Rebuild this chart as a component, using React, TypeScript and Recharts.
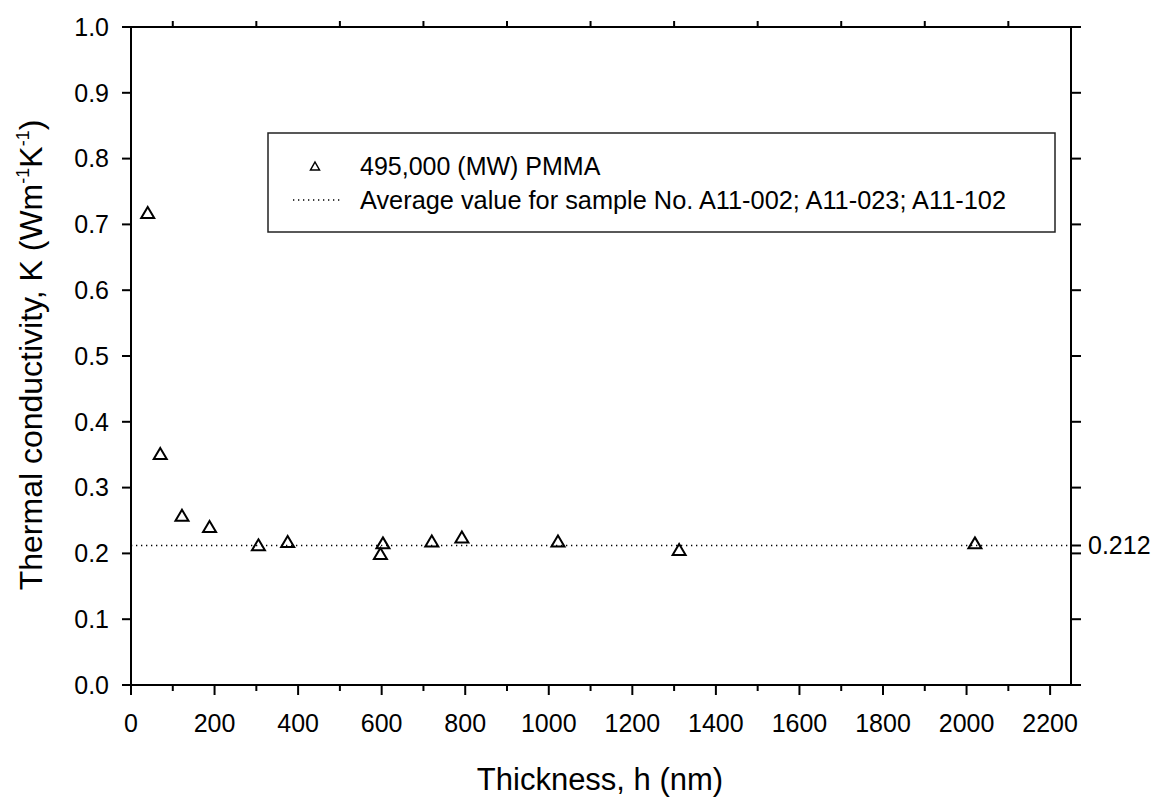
import React from "react";
import { ComposedChart, Scatter, XAxis, YAxis, ReferenceLine, Customized, Label } from "recharts";

const thickness = [40, 70, 122, 188, 305, 375, 597, 603, 720, 792, 1022, 1312, 2020];
const kValues = [0.718, 0.352, 0.258, 0.241, 0.213, 0.218, 0.2, 0.216, 0.219, 0.225, 0.219, 0.206, 0.216];
const averageK = 0.212;

const xTicks = [0, 100, 200, 300, 400, 500, 600, 700, 800, 900, 1000, 1100, 1200, 1300, 1400, 1500, 1600, 1700, 1800, 1900, 2000, 2100, 2200];
const topTicks = [100, 300, 500, 700, 900, 1100, 1300, 1500, 1700, 1900, 2100];
const yTicks = [0, 0.1, 0.2, 0.3, 0.4, 0.5, 0.6, 0.7, 0.8, 0.9, 1.0];
const rightTicks = [0, 0.1, 0.2, averageK, 0.3, 0.4, 0.5, 0.6, 0.7, 0.8, 0.9, 1.0];

const points = thickness.map((h, i) => ({ h, k: kValues[i] }));

const FONT = "'Liberation Sans', Arial, sans-serif";

function Triangle(props: any) {
  const { cx, cy } = props;
  if (cx == null || cy == null) return null;
  return (
    <polygon
      points={`${cx},${cy - 5.5} ${cx + 6.5},${cy + 5.5} ${cx - 6.5},${cy + 5.5}`}
      fill="none"
      stroke="#000"
      strokeWidth={2}
    />
  );
}

function NoShape() {
  return <g />;
}

function BottomTick(props: any) {
  const { x, y, payload } = props;
  const major = payload.value % 200 === 0;
  return (
    <g>
      <line x1={x} y1={y} x2={x} y2={y + (major ? 10 : 6)} stroke="#000" strokeWidth={2} />
      {major && (
        <text x={x} y={y + 47} textAnchor="middle" fontSize={25} fontFamily={FONT} fill="#000">
          {payload.value}
        </text>
      )}
    </g>
  );
}

function EmptyTick() {
  return <g />;
}

function Titles() {
  return (
    <g fontFamily={FONT} fill="#000">
      <text x={600} y={790} textAnchor="middle" fontSize={31}>
        Thickness, h (nm)
      </text>
      <text x={42} y={355} textAnchor="middle" fontSize={32} transform="rotate(-90 42 355)">
        Thermal conductivity, K (Wm
        <tspan fontSize={18} dy={-13}>-1</tspan>
        <tspan dy={13}>K</tspan>
        <tspan fontSize={18} dy={-13}>-1</tspan>
        <tspan dy={13}>)</tspan>
      </text>
      <rect x={268} y={133} width={787} height={99} fill="#fff" stroke="#222" strokeWidth={1.5} />
      <polygon points="315,162 319.5,170 310.5,170" fill="none" stroke="#000" strokeWidth={1.5} />
      <text x={360} y={175} fontSize={25}>495,000 (MW) PMMA</text>
      <line x1={293} y1={200} x2={342} y2={200} stroke="#000" strokeWidth={1.3} strokeDasharray="1.3 3.7" />
      <text x={360} y={209} fontSize={25} textLength={646} lengthAdjust="spacingAndGlyphs">
        Average value for sample No. A11-002; A11-023; A11-102
      </text>
    </g>
  );
}

export default function App() {
  return (
    <div style={{ position: "absolute", left: 0, top: 0, width: 1156, height: 797, overflow: "hidden", background: "#fff" }}>
      <ComposedChart width={1156} height={797} data={points} margin={{ top: 7, right: 0, bottom: 0, left: 0 }}>
        <XAxis
          xAxisId="bottom"
          dataKey="h"
          type="number"
          domain={[0, 2250]}
          ticks={xTicks}
          interval={0}
          height={112}
          axisLine={{ stroke: "#000", strokeWidth: 2 }}
          tickLine={false}
          tickSize={0}
          tickMargin={0}
          tick={<BottomTick />}
        />
        <XAxis
          xAxisId="top"
          orientation="top"
          dataKey="h"
          type="number"
          domain={[0, 2250]}
          ticks={topTicks}
          interval={0}
          height={20}
          axisLine={{ stroke: "#000", strokeWidth: 2 }}
          tickLine={{ stroke: "#000", strokeWidth: 2 }}
          tickSize={6}
          tick={<EmptyTick />}
        />
        <YAxis
          yAxisId="left"
          type="number"
          domain={[0, 1]}
          ticks={yTicks}
          interval={0}
          width={131}
          axisLine={{ stroke: "#000", strokeWidth: 2 }}
          tickLine={{ stroke: "#000", strokeWidth: 2 }}
          tickSize={9}
          tickMargin={13}
          tickFormatter={(v: number) => v.toFixed(1)}
          tick={{ fill: "#000", fontSize: 25, fontFamily: FONT }}
        />
        <YAxis
          yAxisId="right"
          orientation="right"
          type="number"
          domain={[0, 1]}
          ticks={rightTicks}
          interval={0}
          width={85}
          axisLine={{ stroke: "#000", strokeWidth: 2 }}
          tickLine={{ stroke: "#000", strokeWidth: 2 }}
          tickSize={10}
          tick={<EmptyTick />}
        />
        <ReferenceLine
          xAxisId="bottom"
          yAxisId="left"
          y={averageK}
          stroke="#000"
          strokeWidth={1.3}
          strokeDasharray="1.3 3.7"
        >
          <Label
            value={String(averageK)}
            position="right"
            offset={17}
            fill="#000"
            fontSize={25}
            fontFamily={FONT}
          />
        </ReferenceLine>
        <Scatter
          xAxisId="top"
          yAxisId="right"
          dataKey="k"
          shape={<NoShape />}
          isAnimationActive={false}
        />
        <Scatter
          xAxisId="bottom"
          yAxisId="left"
          dataKey="k"
          shape={<Triangle />}
          isAnimationActive={false}
        />
        <Customized component={<Titles />} />
      </ComposedChart>
    </div>
  );
}
